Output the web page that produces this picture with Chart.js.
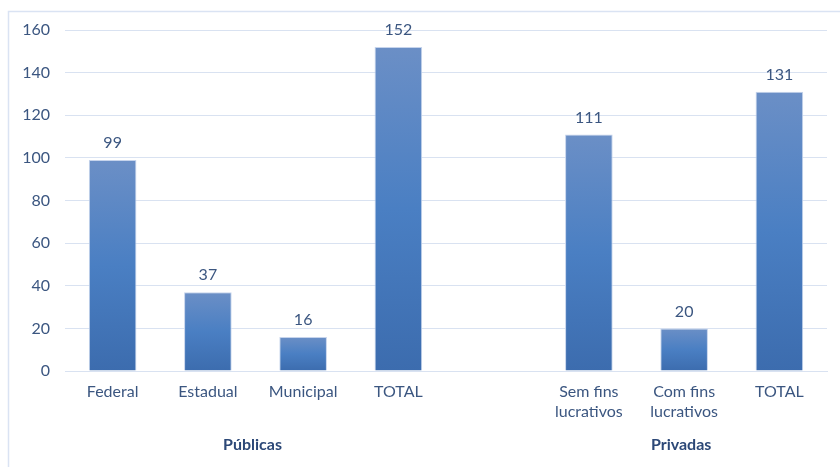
<!DOCTYPE html>
<html>
<head>
<meta charset="utf-8">
<script src="https://cdn.jsdelivr.net/npm/chart.js@4/dist/chart.umd.min.js"></script>
<style>
  html, body { margin: 0; padding: 0; background: #fff; }
  #wrap { width: 840px; height: 467px; position: relative; }
</style>
</head>
<body>
<div id="wrap"><canvas id="grafico"></canvas></div>
<script>
// categorias (posição vazia separa públicas e privadas)
const categorias = [
   'Federal', 'Estadual', 'Municipal', 'TOTAL', '',
   ['Sem fins', 'lucrativos'], ['Com fins', 'lucrativos'], 'TOTAL'
];
const valores = [99, 37, 16, 152, null, 111, 20, 131];
const grupos = ['Públicas', 'Privadas'];
// índices das categorias de cada grupo
const grupo_inicio = [0, 5];
const grupo_fim = [3, 7];
const eixo_y = { min: 0, max: 160, passo: 20 };

const cor_texto = '#3b5680';
const cor_grade = '#d9e2f1';
const fonte = 'Lato, "Open Sans", sans-serif';

// gradiente de cada barra: claro em cima, escuro embaixo
function corBarra(context) {
   const chart = context.chart;
   const v = context.raw;
   if (!chart.chartArea || v === null || v === undefined) return '#4a7fc2';
   const y = chart.scales.y;
   const topo = y.getPixelForValue(v);
   const base = y.getPixelForValue(0);
   const g = chart.ctx.createLinearGradient(0, topo, 0, base);
   g.addColorStop(0, '#6b8fc6');
   g.addColorStop(0.5, '#4a7fc3');
   g.addColorStop(1, '#3c6cae');
   return g;
}

// moldura clara em volta do gráfico
const moldura = {
   id: 'moldura',
   beforeDraw(chart) {
      const ctx = chart.ctx;
      ctx.save();
      ctx.strokeStyle = '#dae3f3';
      ctx.lineWidth = 1.5;
      ctx.strokeRect(8.5, 11.5, 900, 500);
      ctx.restore();
   }
};

// valores acima das barras e nomes dos grupos
const rotulos = {
   id: 'rotulos',
   afterDatasetsDraw(chart) {
      const ctx = chart.ctx;
      const meta = chart.getDatasetMeta(0);
      ctx.save();
      ctx.fillStyle = cor_texto;
      ctx.font = '16px ' + fonte;
      ctx.textAlign = 'center';
      ctx.textBaseline = 'middle';
      meta.data.forEach((bar, i) => {
         if (valores[i] === null) return;
         ctx.fillText(valores[i], bar.x, bar.y - 17);
      });
      const x = chart.scales.x;
      ctx.font = 'bold 16px ' + fonte;
      ctx.fillStyle = '#2c4877';
      grupos.forEach((g, i) => {
         const cx = (x.getPixelForValue(grupo_inicio[i]) + x.getPixelForValue(grupo_fim[i])) / 2;
         ctx.fillText(g, cx - 3, 445);
      });
      ctx.restore();
   }
};

const config = {
   type: 'bar',
   data: {
      labels: categorias,
      datasets: [{
         data: valores,
         backgroundColor: corBarra,
         borderColor: '#c6d4ec',
         borderWidth: 1,
         barPercentage: 0.5,
         categoryPercentage: 1
      }]
   },
   options: {
      responsive: true,
      maintainAspectRatio: false,
      animation: false,
      layout: { padding: { left: 23, right: 13, top: 30, bottom: 0 } },
      plugins: {
         legend: { display: false },
         tooltip: { enabled: false }
      },
      scales: {
         x: {
            grid: { display: false, drawTicks: false },
            border: { color: cor_grade, width: 1 },
            ticks: {
               color: cor_texto,
               font: { family: fonte, size: 16, lineHeight: 1.3 },
               padding: 10,
               maxRotation: 0,
               autoSkip: false
            },
            afterFit(scale) { scale.height = 96; }
         },
         y: {
            min: eixo_y.min,
            max: eixo_y.max,
            grid: { color: cor_grade, drawTicks: false },
            border: { display: false },
            ticks: {
               stepSize: eixo_y.passo,
               color: cor_texto,
               font: { family: fonte, size: 16 },
               padding: 15
            },
            afterFit(scale) { scale.width = 42; }
         }
      }
   },
   plugins: [moldura, rotulos]
};

new Chart(document.getElementById('grafico'), config);
</script>
</body>
</html>
